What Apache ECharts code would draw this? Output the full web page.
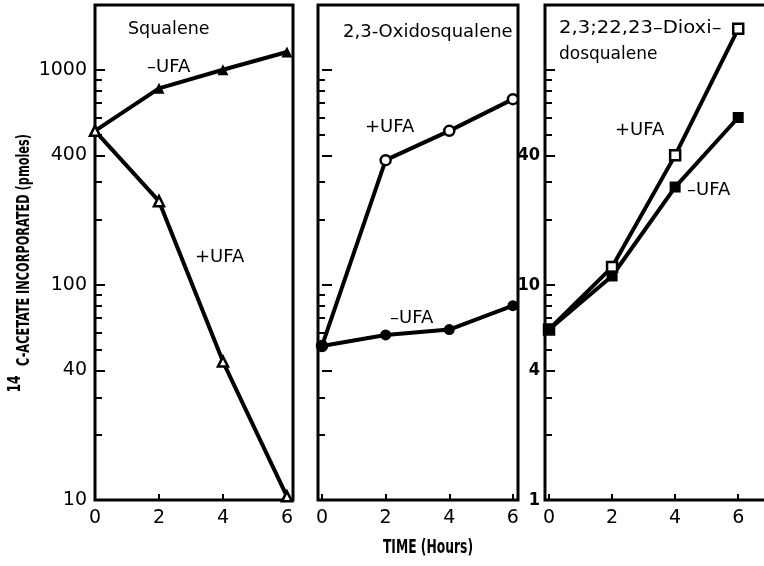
<!DOCTYPE html>
<html>
<head>
<meta charset="utf-8">
<script src="https://cdn.jsdelivr.net/npm/echarts@6/dist/echarts.min.js"></script>
<style>
  html, body { margin: 0; padding: 0; background: #fff; }
  #chart { width: 764px; height: 566px; }
</style>
</head>
<body>
<div id="chart"></div>
<script>
// hours on the x axis
const hours = [0, 2, 4, 6]
const xTicks = [0, 2, 4, 6]

// 14C-acetate incorporated (pmoles)
const squaleneMinus = [520, 820, 1000, 1210]
const squalenePlus = [520, 245, 44, 10.4]
const oxidoPlus = [52, 380, 520, 730]
const oxidoMinus = [52, 58.5, 62, 80]
const dioxidoPlus = [6.2, 12.1, 40, 155]
const dioxidoMinus = [6.2, 11, 28.5, 60]

// tick values on the log axes
const labelsLeft = [10, 40, 100, 400, 1000]
const majorLeft = [10, 40, 100, 400, 1000]
const minorLeft = [20, 30, 50, 60, 70, 80, 90, 200, 300, 500, 600, 700, 800, 900]
const labelsRight = [1, 4, 10, 40]
const majorRight = [1, 4, 10, 40, 100]
const minorRight = [2, 3, 5, 6, 7, 8, 9, 20, 30, 50, 60, 70, 80, 90]

const sans = 'DejaVu Sans'
const narrow = "'Liberation Sans Narrow', 'DejaVu Sans Condensed', sans-serif"

const pair = (ys) => hours.map((h, i) => [h, ys[i]])

function xAxisFor(grid, min, max) {
  return {
    type: 'value',
    gridIndex: grid,
    min: min,
    max: max,
    axisLine: { show: false },
    splitLine: { show: false },
    axisTick: {
      show: true,
      inside: true,
      length: 6,
      customValues: xTicks,
      lineStyle: { color: '#000', width: 2 }
    },
    axisLabel: {
      show: true,
      customValues: xTicks,
      margin: 9,
      color: '#000',
      fontFamily: sans,
      fontSize: 19
    }
  }
}

// one log axis per job: labels, long ticks, short ticks
function yAxisFor(grid, min, max, ticks, len, labels, labelStyle) {
  return {
    type: 'log',
    logBase: 10,
    gridIndex: grid,
    position: 'left',
    min: min,
    max: max,
    axisLine: { show: false },
    splitLine: { show: false },
    minorTick: { show: false },
    axisTick: ticks
      ? {
          show: true,
          inside: true,
          length: len,
          customValues: ticks,
          lineStyle: { color: '#000', width: 2 }
        }
      : { show: false },
    axisLabel: labels
      ? Object.assign({
          show: true,
          customValues: labels,
          color: '#000',
          formatter: (v) => String(Math.round(v))
        }, labelStyle)
      : { show: false }
  }
}

function line(name, x, y, data, symbol, filled) {
  return {
    name: name,
    type: 'line',
    xAxisIndex: x,
    yAxisIndex: y,
    data: data,
    clip: false,
    symbol: symbol,
    symbolSize: filled ? 11 : 10,
    showSymbol: true,
    lineStyle: { color: '#000', width: 4 },
    itemStyle: {
      color: filled ? '#000' : '#fff',
      borderColor: '#000',
      borderWidth: filled ? 0 : 2.5
    },
    emphasis: { disabled: true },
    z: 3
  }
}

function txt(text, x, y, size, squeeze) {
  return {
    type: 'text',
    x: x,
    y: y,
    scaleX: squeeze || 1,
    style: {
      text: text,
      fill: '#000',
      font: size + 'px ' + sans,
      textVerticalAlign: 'middle'
    }
  }
}

// squeezed bold text, like the condensed lettering of the axis titles
function narrowTxt(text, x, y, size, squeeze, rotation) {
  return {
    type: 'text',
    x: x,
    y: y,
    rotation: rotation || 0,
    scaleX: squeeze,
    style: {
      text: text,
      fill: '#000',
      font: 'bold ' + size + 'px ' + narrow,
      textAlign: 'center',
      textVerticalAlign: 'middle'
    }
  }
}

const leftLabel = { fontFamily: sans, fontSize: 19, margin: 8 }
const rightLabel = { fontFamily: narrow, fontSize: 18, fontWeight: 'bold', margin: 5 }

const gridBase = {
  top: 5,
  height: 495,
  show: true,
  borderColor: '#000',
  borderWidth: 3,
  backgroundColor: 'transparent',
  outerBoundsMode: 'none',
  containLabel: false
}

const chart = echarts.init(document.getElementById('chart'))
chart.setOption({
  animation: false,
  backgroundColor: '#fff',
  grid: [
    Object.assign({ left: 95, width: 198 }, gridBase),
    Object.assign({ left: 318, width: 200 }, gridBase),
    Object.assign({ left: 545, width: 226 }, gridBase)
  ],
  xAxis: [
    xAxisFor(0, 0, 6.19),
    xAxisFor(1, -0.126, 6.16),
    xAxisFor(2, -0.127, 7.04)
  ],
  yAxis: [
    yAxisFor(0, 10, 2000, null, 0, labelsLeft, leftLabel),
    yAxisFor(0, 10, 2000, majorLeft, 10),
    yAxisFor(0, 10, 2000, minorLeft, 7),
    yAxisFor(1, 10, 2000, majorLeft, 10),
    yAxisFor(1, 10, 2000, minorLeft, 7),
    yAxisFor(2, 1, 200, null, 0, labelsRight, rightLabel),
    yAxisFor(2, 1, 200, majorRight, 10),
    yAxisFor(2, 1, 200, minorRight, 7)
  ],
  series: [
    line('Squalene -UFA', 0, 0, pair(squaleneMinus), 'triangle', true),
    line('Squalene +UFA', 0, 0, pair(squalenePlus), 'triangle', false),
    line('2,3-Oxidosqualene +UFA', 1, 3, pair(oxidoPlus), 'circle', false),
    line('2,3-Oxidosqualene -UFA', 1, 3, pair(oxidoMinus), 'circle', true),
    line('Dioxidosqualene +UFA', 2, 5, pair(dioxidoPlus), 'rect', false),
    line('Dioxidosqualene -UFA', 2, 5, pair(dioxidoMinus), 'rect', true)
  ],
  graphic: [
    txt('Squalene', 128, 29, 17.5),
    txt('2,3-Oxidosqualene', 343, 32, 18),
    txt('2,3;22,23–Dioxi–', 559, 28, 17.5, 1.12),
    txt('dosqualene', 559, 55, 17),
    txt('–UFA', 147, 67, 18),
    txt('+UFA', 195, 257, 18),
    txt('+UFA', 365, 127, 18),
    txt('–UFA', 390, 318, 18),
    txt('+UFA', 615, 130, 18),
    txt('–UFA', 687, 190, 18),
    narrowTxt('TIME (Hours)', 428, 548, 19, 0.72),
    narrowTxt('C-ACETATE INCORPORATED (pmoles)', 25, 250, 17, 0.74, Math.PI / 2),
    narrowTxt('14', 16, 384, 17, 0.8, Math.PI / 2)
  ]
})
</script>
</body>
</html>
